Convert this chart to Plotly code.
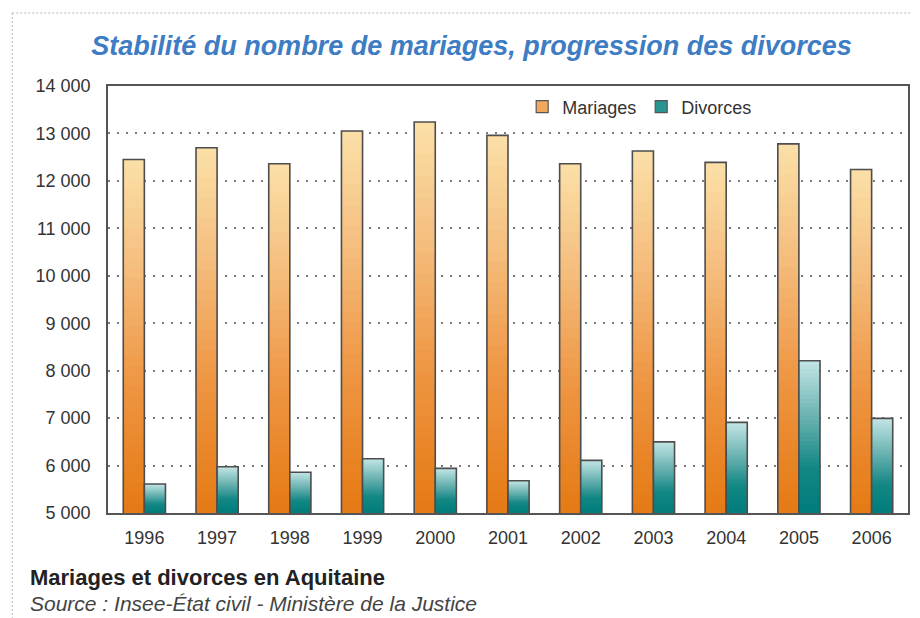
import plotly.graph_objects as go

# ---- data ----
years = ["1996", "1997", "1998", "1999", "2000", "2001", "2002", "2003", "2004", "2005", "2006"]
mariages = [12450, 12700, 12360, 13050, 13240, 12960, 12360, 12630, 12390, 12780, 12240]
divorces = [5610, 5975, 5860, 6145, 5940, 5680, 6110, 6500, 6910, 8210, 6995]
y_tick_values = [5000, 6000, 7000, 8000, 9000, 10000, 11000, 12000, 13000, 14000]
y_tick_labels = ["5 000", "6 000", "7 000", "8 000", "9 000", "10 000", "11 000", "12 000", "13 000", "14 000"]

Y_MIN, Y_MAX = 5000, 14000
FONT = "Liberation Sans, Arial, Helvetica, sans-serif"

# gradient stops: 0 = bottom of bar, 1 = top of bar
GRAD_MAR = [(0.0, "#E57A14"), (0.35, "#EE9440"), (0.7, "#F5BE7E"), (1.0, "#FBE0A8")]
GRAD_DIV = [(0.0, "#007D7C"), (0.3, "#138784"), (0.65, "#6FB5B4"), (1.0, "#C3E6E5")]


def hex2rgb(h):
    h = h.lstrip("#")
    return tuple(int(h[i:i + 2], 16) for i in (0, 2, 4))


def grad_color(stops, t):
    for (t0, c0), (t1, c1) in zip(stops[:-1], stops[1:]):
        if t0 <= t <= t1:
            a = (t - t0) / (t1 - t0) if t1 > t0 else 0
            r0, g0, b0 = hex2rgb(c0)
            r1, g1, b1 = hex2rgb(c1)
            return "rgb(%d,%d,%d)" % (round(r0 + (r1 - r0) * a), round(g0 + (g1 - g0) * a), round(b0 + (b1 - b0) * a))
    return stops[-1][1]


N_LAYERS = 36
BAR_W = 0.29
series = [
    ("Mariages", mariages, GRAD_MAR, -BAR_W, "#F2A85A"),
    ("Divorces", divorces, GRAD_DIV, 0.0, "#2A9491"),
]

fig = go.Figure()

# legend proxies (no bars drawn)
for name, vals, stops, off, legcol in series:
    fig.add_trace(go.Bar(
        x=years, y=[None] * len(years), name=name, offset=off, width=BAR_W,
        marker=dict(color=legcol, line=dict(color="#555555", width=1.2)),
        showlegend=True, hoverinfo="skip",
    ))

# gradient layers
for name, vals, stops, off, legcol in series:
    for k in range(N_LAYERS, 0, -1):
        frac = k / N_LAYERS
        fig.add_trace(go.Bar(
            x=years, y=[Y_MIN + (v - Y_MIN) * frac for v in vals],
            offset=off, width=BAR_W,
            marker=dict(color=grad_color(stops, (k - 0.5) / N_LAYERS), line=dict(width=0)),
            showlegend=False, hoverinfo="skip",
        ))
    # outline
    fig.add_trace(go.Bar(
        x=years, y=vals, name=name, offset=off, width=BAR_W,
        marker=dict(color="rgba(0,0,0,0)", line=dict(color="#4d4d4d", width=1.6)),
        showlegend=False,
    ))

# the page body has an 8px margin: lay the figure out in window pixels minus that offset
OFF = 8
W, H = 920 - OFF, 618 - OFF
L, R, T, B = 108 - OFF, 920 - 910, 86 - OFF, 618 - 513
pw, ph = W - L - R, H - T - B


def px_x(px):
    return (px - OFF - L) / pw


def px_y(py):
    return (H - B - (py - OFF)) / ph


fig.update_layout(
    width=W, height=H,
    margin=dict(l=L, r=R, t=T, b=B),
    paper_bgcolor="white", plot_bgcolor="white",
    barmode="overlay",
    font=dict(family=FONT, size=18, color="#333333"),
    title=dict(
        text="Stabilité du nombre de mariages, progression des divorces",
        x=(471.5 - OFF) / W, xanchor="center", y=1 - (46 - OFF) / H, yanchor="middle",
        font=dict(family=FONT, size=27, color="#3E7CC3", weight="bold", style="italic"),
    ),
    legend=dict(
        orientation="h", x=px_x(641), xanchor="center", y=px_y(107), yanchor="middle",
        bgcolor="rgba(0,0,0,0)", font=dict(size=18, color="#333333"), traceorder="normal",
    ),
    showlegend=True,
    xaxis=dict(
        type="category", showline=True, linecolor="#555555", linewidth=1.6, mirror=True,
        showgrid=False, ticks="", tickfont=dict(size=18, color="#333333"), ticklabelstandoff=8,
        fixedrange=True,
    ),
    yaxis=dict(
        range=[Y_MIN, Y_MAX], tickvals=y_tick_values, ticktext=y_tick_labels,
        showline=True, linecolor="#555555", linewidth=1.6, mirror=True,
        showgrid=True, gridcolor="#7a7a7a", gridwidth=1.6, griddash="2px,7px",
        ticks="", tickfont=dict(size=18, color="#333333"), ticklabelstandoff=12,
        zeroline=False, fixedrange=True,
    ),
    annotations=[
        dict(text="<b>Mariages et divorces en Aquitaine</b>", xref="paper", yref="paper",
             x=px_x(28), y=px_y(577), xanchor="left", yanchor="middle", showarrow=False,
             font=dict(family=FONT, size=22, color="#222222")),
        dict(text="<i>Source : Insee-État civil - Ministère de la Justice</i>", xref="paper", yref="paper",
             x=px_x(28), y=px_y(603), xanchor="left", yanchor="middle", showarrow=False,
             font=dict(family=FONT, size=21, color="#444444")),
    ],
    shapes=[
        dict(type="line", xref="paper", yref="paper", x0=px_x(12), x1=px_x(920), y0=px_y(13), y1=px_y(13),
             line=dict(color="#b5b5b5", width=1, dash="2px,2px")),
        dict(type="line", xref="paper", yref="paper", x0=px_x(12), x1=px_x(12), y0=px_y(13), y1=px_y(618),
             line=dict(color="#b5b5b5", width=1, dash="2px,2px")),
    ],
)

fig.write_html("out.html")
